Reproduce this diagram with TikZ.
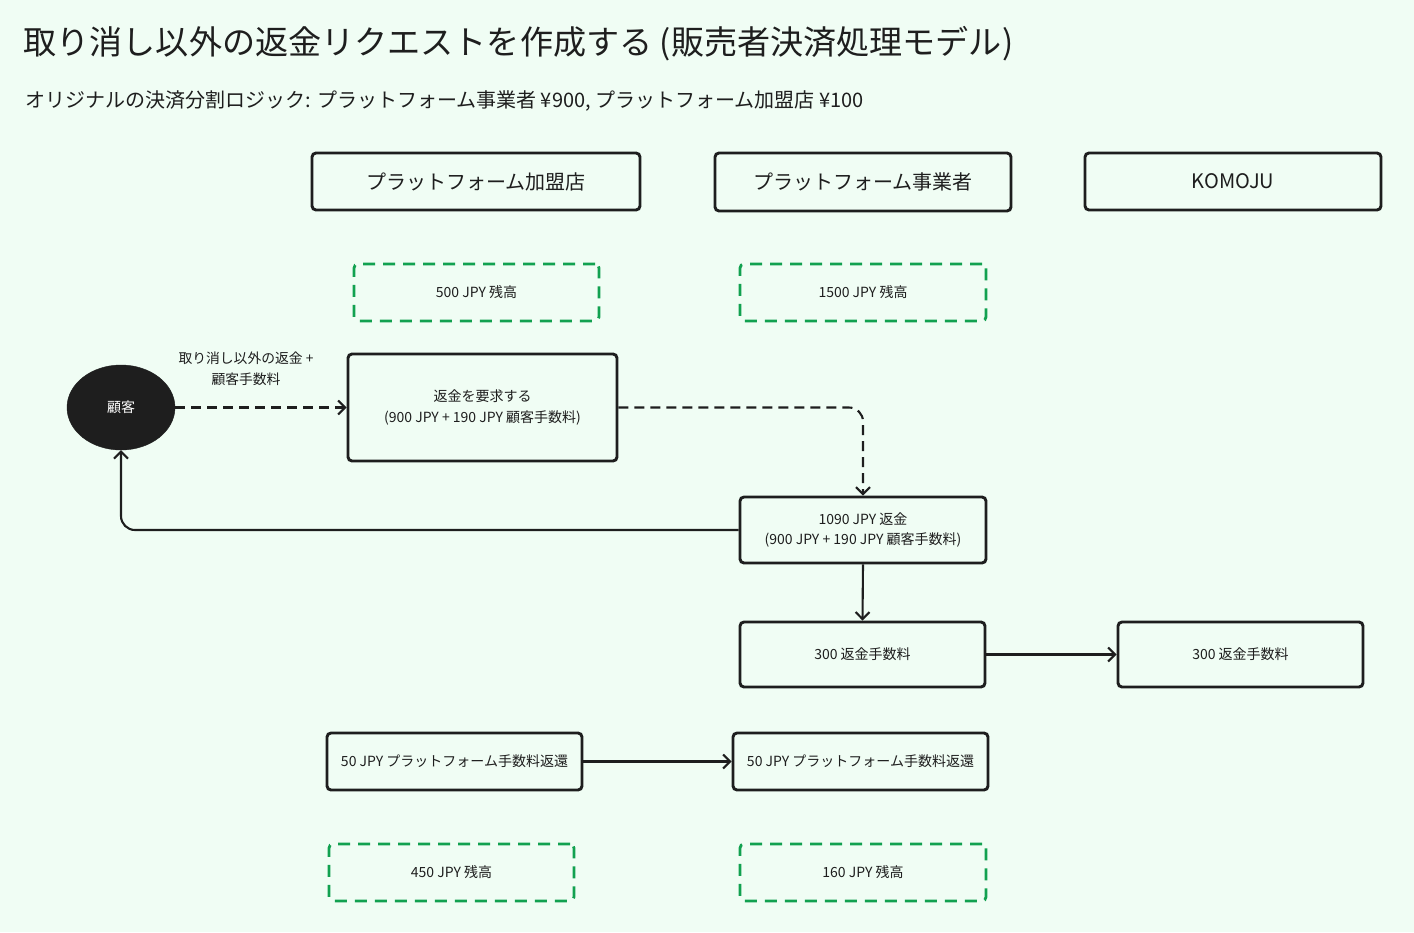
\documentclass[tikz,border=0pt]{standalone}
\usepackage{fontspec}
\setmainfont{Noto Sans CJK JP}
\usetikzlibrary{arrows.meta,shapes.geometric}
\definecolor{bg}{HTML}{F0FDF4}
\definecolor{ink}{HTML}{1E1E1E}
\definecolor{grn}{HTML}{12A150}
\tikzset{
  box/.style={draw=ink, line width=2.9pt, rounded corners=4pt, text=ink, align=center, inner sep=0pt, font=\fontsize{14}{20.5}\selectfont},
  hdr/.style={box, font=\fontsize{20}{24}\selectfont},
  bal/.style={draw=grn, line width=2.8pt, dash pattern=on 12pt off 8pt, rounded corners=4pt, text=ink, align=center, inner sep=0pt, font=\fontsize{14}{20}\selectfont},
  arr/.style={draw=ink, line width=2.1pt, -{Straight Barb[length=7pt,width=14pt,line width=2.1pt]}},
  darr/.style={arr, dash pattern=on 10pt off 6pt},
  lbl/.style={text=ink, align=center, font=\fontsize{13.8}{21}\selectfont},
}
\begin{document}
\begin{tikzpicture}[x=1pt,y=-1pt]
\useasboundingbox[fill=bg] (0,0) rectangle (1414,932);
\node[anchor=west, text=ink, font=\fontsize{33.1}{40}\selectfont] (title) at (20,44) {取り消し以外の返金リクエストを作成する (販売者決済処理モデル)};
\node[anchor=west, text=ink, font=\fontsize{20}{24}\selectfont] (sub) at (22,101) {オリジナルの決済分割ロジック: プラットフォーム事業者 ¥900, プラットフォーム加盟店 ¥100};

\node[hdr, minimum width=328pt, minimum height=57pt] (merch) at (476,181.5) {プラットフォーム加盟店};
\node[hdr, minimum width=296pt, minimum height=58pt] (oper) at (863,182) {プラットフォーム事業者};
\node[hdr, minimum width=296pt, minimum height=57pt] (komoju) at (1233,181.5) {KOMOJU};

\node[bal, minimum width=245pt, minimum height=57pt] (b500) at (476.5,292.5) {500 JPY 残高};
\node[bal, minimum width=246pt, minimum height=57pt] (b1500) at (863,292.5) {1500 JPY 残高};

\node[ellipse, fill=ink, draw=ink, minimum width=108pt, minimum height=85pt, text=white, font=\fontsize{14}{16}\selectfont] (cust) at (121,407.5) {顧客};

\node[box, minimum width=269pt, minimum height=107pt] (req) at (482.5,407.5) {返金を要求する\\(900 JPY + 190 JPY 顧客手数料)};
\node[box, minimum width=246pt, minimum height=66pt] (refund) at (863,530) {1090 JPY 返金\\(900 JPY + 190 JPY 顧客手数料)};
\node[box, minimum width=245pt, minimum height=65pt] (feeL) at (862.5,654.5) {300 返金手数料};
\node[box, minimum width=245pt, minimum height=65pt] (feeR) at (1240.5,654.5) {300 返金手数料};
\node[box, minimum width=255pt, minimum height=57pt] (retL) at (454.5,761.5) {50 JPY プラットフォーム手数料返還};
\node[box, minimum width=255pt, minimum height=57pt] (retR) at (860.5,761.5) {50 JPY プラットフォーム手数料返還};

\node[bal, minimum width=245pt, minimum height=57pt] (b450) at (451.5,872.5) {450 JPY 残高};
\node[bal, minimum width=246pt, minimum height=57pt] (b160) at (863,872.5) {160 JPY 残高};

\node[lbl] (clab) at (246,368.5) {取り消し以外の返金 +\\顧客手数料};

\draw[darr] (cust.east) -- (req.west);
\draw[darr, rounded corners=14pt] (req.east) -- (req.east -| refund.north) -- (refund.north);
\draw[arr, rounded corners=14pt] (refund.west) -| (cust.south);
\draw[arr] (refund.south) -- (feeL.north);
\draw[arr] (feeL.east) -- (feeR.west);
\draw[arr] (retL.east) -- (retR.west);
\end{tikzpicture}
\end{document}
